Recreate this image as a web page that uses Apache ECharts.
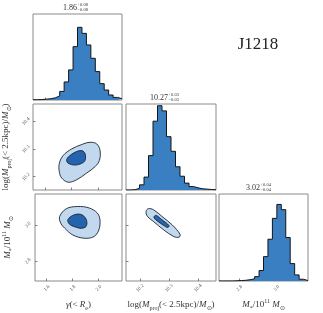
<!DOCTYPE html>
<html>
<head>
<meta charset="utf-8">
<script src="https://cdn.jsdelivr.net/npm/echarts@6/dist/echarts.min.js"></script>
<style>html,body{margin:0;padding:0;background:#fff}#c{width:323px;height:313px}</style>
</head>
<body>
<div id="c"></div>
<script>
// ---- data ----
const gammaRange = [1.51, 2.18];
const logMRange = [10.152, 10.462];
const mstarRange = [2.69, 3.17];
const gammaTicks = [1.6, 1.8, 2.0];
const logMTicks = [10.2, 10.3, 10.4];
const mstarTicks = [2.8, 3.0];
const gammaHist = [3,5,10,15,25,47,100,210,350,620,845,775,640,485,330,190,116,58,30,15];
const logMHist = [0,3,20,60,150,400,800,980,920,620,450,270,160,80,40,25,15,10,6,3];
const mstarHist = [0,0,0,2,5,8,15,25,50,120,280,480,720,880,820,500,200,70,20,5];
const histMax = 1000;
// contours (x, y) in data units
const gLogOuter = [[1.708,10.248],[1.738,10.277],[1.801,10.300],[1.877,10.316],[1.939,10.324],[1.990,10.318],[2.015,10.294],[2.010,10.259],[1.977,10.236],[1.914,10.213],[1.839,10.189],[1.776,10.180],[1.726,10.195],[1.708,10.218]];
const gLogInner = [[1.776,10.271],[1.826,10.288],[1.877,10.294],[1.902,10.283],[1.902,10.259],[1.877,10.248],[1.826,10.242],[1.776,10.248],[1.763,10.259]];
const gMsOuter = [[1.700,3.046],[1.751,3.089],[1.839,3.101],[1.927,3.093],[1.990,3.065],[2.010,3.028],[2.002,2.972],[1.964,2.935],[1.889,2.926],[1.801,2.944],[1.738,2.982],[1.708,3.009]];
const gMsInner = [[1.763,3.028],[1.801,3.052],[1.851,3.059],[1.889,3.046],[1.909,3.018],[1.902,2.990],[1.864,2.981],[1.813,2.990],[1.776,3.003]];
const lMsOuter = [[10.221,3.074],[10.229,3.089],[10.247,3.083],[10.276,3.046],[10.311,3.000],[10.338,2.948],[10.335,2.932],[10.317,2.935],[10.282,2.972],[10.247,3.018],[10.226,3.046]];
const lMsInner = [[10.249,3.046],[10.256,3.052],[10.276,3.028],[10.300,2.996],[10.296,2.985],[10.282,2.996],[10.259,3.022],[10.249,3.037]];
const titles = [
  {main:'1.86', up:'+0.08', lo:'\u22120.08'},
  {main:'10.27', up:'+0.03', lo:'\u22120.03'},
  {main:'3.02', up:'+0.04', lo:'\u22120.04'}
];
const label = 'J1218';

// ---- styles ----
const SERIF = 'Liberation Serif';
const HIST_FILL = '#3a7fc1';
const OUTER_FILL = '#c2d8ee';
const INNER_FILL = '#2463ad';
const EDGE = '#1b2430';
const FRAME = '#8a8a8a';

const rich = {
  n: {fontFamily: SERIF, fontSize: 9, lineHeight: 13, color: '#333'},
  i: {fontFamily: SERIF, fontSize: 9, lineHeight: 13, fontStyle: 'italic', color: '#333'},
  s: {fontFamily: SERIF, fontSize: 6, lineHeight: 7, verticalAlign: 'bottom', color: '#333'},
  u: {fontFamily: SERIF, fontSize: 6, lineHeight: 7, verticalAlign: 'top', color: '#333'}
};
const nameLogM = '{n|log(}{i|M}{s|proj}{n|(< 2.5kpc)/}{i|M}{s|\u2299}{n|)}';
const nameMs = '{i|M}{s|*}{n|/10}{u|11}{n| }{i|M}{s|\u2299}';
const nameGamma = '{i|\u03b3}{n|(< }{i|R}{s|e}{n|)}';

const grids = [
  {left:33, top:14, width:89, height:86},
  {left:33, top:104, width:89, height:86},
  {left:126, top:104, width:90, height:86},
  {left:33, top:194, width:89, height:87},
  {left:126, top:194, width:90, height:87},
  {left:219, top:194, width:89, height:87}
].map(g => Object.assign(g, {show:true, borderColor:FRAME, borderWidth:1, backgroundColor:'transparent', containLabel:false}));

function axis(gi, range, ticks, showLabels, name, isY) {
  const a = {
    type:'value', gridIndex:gi, min:range[0], max:range[1],
    axisLine:{show:false}, splitLine:{show:false},
    axisTick:{show: !!ticks, inside:true, length:2.5, lineStyle:{color:'#666', width:0.8}, customValues: ticks || []},
    axisLabel:{show: showLabels, customValues: ticks || [], rotate:45, align:'center', verticalAlign:'middle',
      margin:7, fontSize:5, color:'#555', fontFamily: SERIF, formatter: v => v.toFixed(1)}
  };
  if (name) {
    a.name = name; a.nameLocation = 'middle';
    a.nameGap = isY ? 21 : 17;
    if (isY) a.nameRotate = 90;
    a.nameTextStyle = {rich: rich};
  }
  return a;
}
function histAxis(gi) {
  return {type:'value', gridIndex:gi, min:0, max:histMax, show:true, axisLine:{show:false}, axisTick:{show:false}, axisLabel:{show:false}, splitLine:{show:false}};
}

const xAxis = [
  axis(0, gammaRange, gammaTicks, false),
  axis(1, gammaRange, gammaTicks, false),
  axis(2, logMRange, logMTicks, false),
  axis(3, gammaRange, gammaTicks, true, nameGamma, false),
  axis(4, logMRange, logMTicks, true, nameLogM, false),
  axis(5, mstarRange, mstarTicks, true, nameMs, false)
];
const yAxis = [
  histAxis(0),
  axis(1, logMRange, logMTicks, true, nameLogM, true),
  histAxis(2),
  axis(3, mstarRange, mstarTicks, true, nameMs, true),
  axis(4, mstarRange, mstarTicks, false),
  histAxis(5)
];

function histSeries(idx, range, counts) {
  const n = counts.length, w = (range[1]-range[0]) / n;
  const d = counts.map((c, i) => [range[0] + i*w, c]);
  d.push([range[1], counts[n-1]]);
  return {type:'line', xAxisIndex:idx, yAxisIndex:idx, data:d, step:'end', symbol:'none', silent:true,
    lineStyle:{color:'#151515', width:1}, areaStyle:{color:HIST_FILL, opacity:1}, z:2};
}
function polySeries(idx, pts, fill) {
  return {type:'custom', xAxisIndex:idx, yAxisIndex:idx, silent:true, clip:true, z:3,
    data:[pts[0]],
    renderItem:(params, api) => ({type:'polygon',
      shape:{points: pts.map(p => api.coord(p)), smooth:0.35},
      style:{fill:fill, stroke:EDGE, lineWidth:0.9}})};
}

const series = [
  histSeries(0, gammaRange, gammaHist),
  histSeries(2, logMRange, logMHist),
  histSeries(5, mstarRange, mstarHist),
  polySeries(1, gLogOuter, OUTER_FILL),
  polySeries(1, gLogInner, INNER_FILL),
  polySeries(3, gMsOuter, OUTER_FILL),
  polySeries(3, gMsInner, INNER_FILL),
  polySeries(4, lMsOuter, OUTER_FILL),
  polySeries(4, lMsInner, INNER_FILL)
];

const titlePos = [[77, 8], [168, 98], [260, 188]];
const graphic = [];
titles.forEach((t, k) => {
  const [x, y] = titlePos[k];
  graphic.push({type:'text', x:x, y:y, silent:true, style:{text:t.main, fontFamily:SERIF, fontSize:8, fill:'#333', align:'right', verticalAlign:'middle'}});
  graphic.push({type:'text', x:x+0.5, y:y-0.5, silent:true, style:{text:t.up + '\n' + t.lo, fontFamily:SERIF, fontSize:4.5, lineHeight:5, fill:'#333', align:'left', verticalAlign:'middle'}});
});
graphic.push({type:'text', x:258, y:45, silent:true, style:{text:label, fontFamily:SERIF, fontSize:17, fill:'#222', align:'center', verticalAlign:'middle'}});

const chart = echarts.init(document.getElementById('c'), null, {renderer:'canvas'});
chart.setOption({animation:false, backgroundColor:'#fff', grid:grids, xAxis:xAxis, yAxis:yAxis, series:series, graphic:graphic});
</script>
</body>
</html>
